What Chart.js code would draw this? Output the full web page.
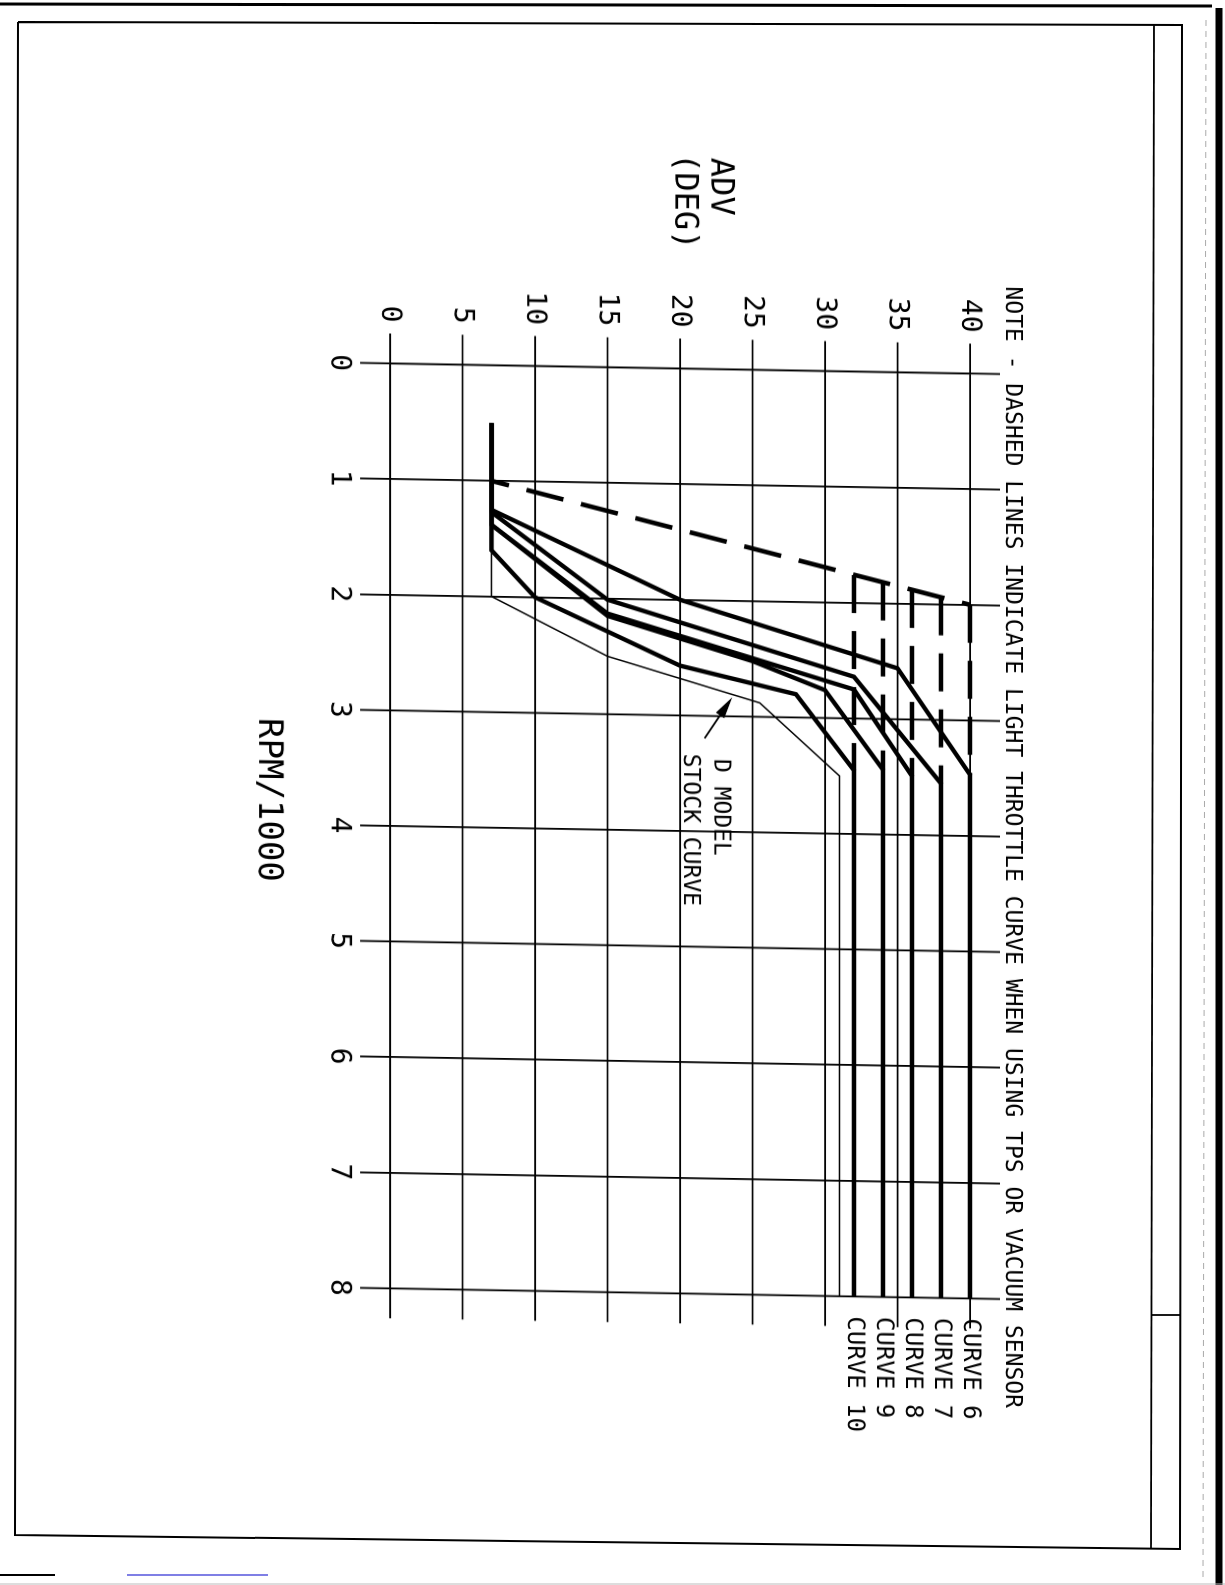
<!DOCTYPE html>
<html>
<head>
<meta charset="utf-8">
<script src="https://cdn.jsdelivr.net/npm/chart.js@4.4.1/dist/chart.umd.min.js"></script>
<style>
html, body { margin: 0; padding: 0; background: #fff; }
body { width: 1225px; height: 1585px; position: relative; overflow: hidden; }
#frame { position: absolute; left: 0; top: 0; }
/* the scanned sheet is slightly sheared, and the drawing is turned a quarter clockwise */
#skew { position: absolute; left: 0; top: 0; width: 1225px; height: 1585px; transform-origin: 390px 363.5px; transform: skewY(1deg); }
#rot { position: absolute; left: 1040px; top: 120px; width: 1320px; height: 810px; transform-origin: 0 0; transform: rotate(90deg); }
#c { width: 1320px; height: 810px; }
</style>
</head>
<body>
<svg id="frame" width="1225" height="1585">
  <line x1="0" y1="4" x2="1212" y2="6" stroke="#000" stroke-width="3"/>
  <line x1="1219" y1="8" x2="1219" y2="1585" stroke="#000" stroke-width="7"/>
  <line x1="1206" y1="20" x2="1203" y2="1580" stroke="#aaa" stroke-width="1" stroke-dasharray="6 5"/>
  <polyline points="18,22 1182,25 1180,1549 15,1535 18,22" fill="none" stroke="#000" stroke-width="2"/>
  <line x1="1154" y1="25" x2="1151" y2="1548" stroke="#000" stroke-width="1.8"/>
  <line x1="1151" y1="1315" x2="1180" y2="1315" stroke="#000" stroke-width="1.8"/>
  <line x1="0" y1="1575" x2="55" y2="1575" stroke="#000" stroke-width="2"/>
  <line x1="127" y1="1575" x2="268" y2="1575" stroke="#0000cc" stroke-width="1.2"/>
  <line x1="0" y1="1584" x2="1225" y2="1584" stroke="#bbb" stroke-width="1"/>
</svg>
<div id="skew"><div id="rot"><canvas id="c" width="1320" height="810"></canvas></div></div>
<script>
// axis ticks
const rpmTicks = [0, 1, 2, 3, 4, 5, 6, 7, 8];
const advTicks = [0, 5, 10, 15, 20, 25, 30, 35, 40];

// full throttle curves (RPM/1000 vs advance degrees)
const curveNames = ['CURVE 6', 'CURVE 7', 'CURVE 8', 'CURVE 9', 'CURVE 10'];
const curve6Rpm = [0.5, 1.25, 2.0, 2.56, 3.47, 8];
const curve6Adv = [7, 7, 20, 35, 40, 40];
const curve7Rpm = [0.5, 1.27, 2.01, 2.64, 3.55, 8];
const curve7Adv = [7, 7, 15, 32, 38, 38];
const curve8Rpm = [0.5, 1.38, 2.13, 2.75, 3.49, 8];
const curve8Adv = [7, 7, 15, 32, 36, 36];
const curve9Rpm = [0.5, 1.38, 2.15, 2.52, 2.76, 3.44, 8];
const curve9Adv = [7, 7, 15, 25, 30, 34, 34];
const curve10Rpm = [0.5, 1.6, 2.0, 2.57, 2.8, 3.45, 8];
const curve10Adv = [7, 7, 10, 20, 28, 32, 32];

// D model stock curve
const stockRpm = [0.5, 2.0, 2.5, 2.88, 3.5, 8];
const stockAdv = [7, 7, 15, 25.5, 31, 31];

// light throttle (dashed) curve, then a drop at each curve's limit
const lightRpm = [1.0, 2.0];
const lightAdv = [7, 40];
const lightStopAdv = [32, 34, 36, 38, 40];
const lightStopFromRpm = [1.76, 1.82, 1.88, 1.94, 2.0];
const lightStopToRpm = [3.45, 3.44, 3.49, 3.55, 3.47];

const noteText = 'NOTE - DASHED LINES INDICATE LIGHT THROTTLE CURVE WHEN USING TPS OR VACUUM SENSOR';
const FONT = '"DejaVu Sans Mono", "Liberation Mono", monospace';

function pts(rpm, adv) {
    return rpm.map((r, i) => ({ x: r, y: adv[i] }));
}

function solid(rpm, adv, width) {
    return {
        data: pts(rpm, adv),
        borderColor: '#000',
        borderWidth: width,
        pointRadius: 0,
        tension: 0,
        fill: false,
        clip: false
    };
}

let curves = [
    [curve6Rpm, curve6Adv],
    [curve7Rpm, curve7Adv],
    [curve8Rpm, curve8Adv],
    [curve9Rpm, curve9Adv],
    [curve10Rpm, curve10Adv]
];
let curveEndAdv = curves.map(c => c[1][c[1].length - 1]);

let datasets = [solid(stockRpm, stockAdv, 1.5)];
curves.forEach(c => datasets.push(solid(c[0], c[1], 4.4)));

let dashed = solid(lightRpm, lightAdv, 4.6);
dashed.borderDash = [38, 18];
dashed.borderDashOffset = 20;
datasets.push(dashed);
lightStopAdv.forEach((a, i) => {
    let d = solid([lightStopFromRpm[i], lightStopToRpm[i]], [a, a], 4.6);
    d.borderDash = [38, 18];
    datasets.push(d);
});

const grid = { color: '#000', lineWidth: 1.8, tickLength: 30, tickColor: '#000', tickWidth: 1.8 };

// words, arrow and labels written on the sheet
const sheetText = {
    id: 'sheetText',
    afterDraw(chart) {
        const ctx = chart.ctx;
        const ca = chart.chartArea;
        const x = chart.scales.x, y = chart.scales.y;
        ctx.save();
        ctx.fillStyle = '#000';
        ctx.strokeStyle = '#000';
        ctx.textBaseline = 'middle';
        ctx.textAlign = 'left';

        ctx.font = '23px ' + FONT;
        ctx.fillText(noteText, ca.left - 88, ca.top - 42);

        ctx.font = '32px ' + FONT;
        ctx.fillText('ADV', 32, ca.top + 250);
        ctx.fillText('(DEG)', 28, ca.top + 286);

        ctx.textAlign = 'center';
        ctx.font = '34px ' + FONT;
        ctx.fillText('RPM/1000', 682, ca.bottom + 122);

        ctx.textAlign = 'left';
        ctx.font = '24px ' + FONT;
        curveNames.forEach((n, i) => {
            ctx.fillText(n, ca.right + 20, y.getPixelForValue(curveEndAdv[i]));
        });

        ctx.font = '23px ' + FONT;
        ctx.fillText('D MODEL', x.getPixelForValue(3.37), y.getPixelForValue(22.8));
        ctx.fillText('STOCK CURVE', x.getPixelForValue(3.33), y.getPixelForValue(20.7));

        // arrow to the stock curve
        let tx = x.getPixelForValue(2.836), ty = y.getPixelForValue(23.6);
        let sx = x.getPixelForValue(3.195), sy = y.getPixelForValue(21.7);
        let ang = Math.atan2(ty - sy, tx - sx);
        let hl = 22, hw = 5;
        let bx = tx - hl * Math.cos(ang), by = ty - hl * Math.sin(ang);
        ctx.lineWidth = 1.8;
        ctx.beginPath();
        ctx.moveTo(sx, sy);
        ctx.lineTo(bx, by);
        ctx.stroke();
        ctx.beginPath();
        ctx.moveTo(tx, ty);
        ctx.lineTo(bx + hw * Math.sin(ang), by - hw * Math.cos(ang));
        ctx.lineTo(bx - hw * Math.sin(ang), by + hw * Math.cos(ang));
        ctx.closePath();
        ctx.fill();
        ctx.restore();
    }
};

new Chart(document.getElementById('c'), {
    type: 'line',
    data: { datasets: datasets },
    plugins: [sheetText],
    options: {
        responsive: false,
        animation: false,
        devicePixelRatio: 2,
        layout: { padding: 0 },
        plugins: { legend: { display: false }, tooltip: { enabled: false } },
        scales: {
            x: {
                type: 'linear', position: 'bottom', min: 0, max: 8,
                grid: grid,
                border: { color: '#000', width: 1.8 },
                ticks: { color: '#000', font: { family: FONT, size: 28 }, padding: 4, maxRotation: 0, autoSkip: false },
                afterBuildTicks: s => { s.ticks = rpmTicks.map(v => ({ value: v })); },
                afterFit: s => { s.height = 160; }
            },
            x2: {
                type: 'linear', position: 'top', min: 0, max: 8,
                grid: Object.assign({}, grid, { drawOnChartArea: false }),
                border: { display: false },
                ticks: { display: false },
                afterBuildTicks: s => { s.ticks = rpmTicks.map(v => ({ value: v })); },
                afterFit: s => { s.height = 70; }
            },
            y: {
                type: 'linear', position: 'left', min: 0, max: 40,
                grid: grid,
                border: { color: '#000', width: 1.8 },
                ticks: { color: '#000', font: { family: FONT, size: 28 }, padding: 11, autoSkip: false },
                afterBuildTicks: s => { s.ticks = advTicks.map(v => ({ value: v })); },
                afterFit: s => { s.width = 243.5; }
            },
            y2: {
                type: 'linear', position: 'right', min: 0, max: 40,
                grid: Object.assign({}, grid, { drawOnChartArea: false }),
                border: { display: false },
                ticks: { display: false },
                afterBuildTicks: s => { s.ticks = advTicks.map(v => ({ value: v })); },
                afterFit: s => { s.width = 151.7; }
            }
        }
    }
});
</script>
</body>
</html>
